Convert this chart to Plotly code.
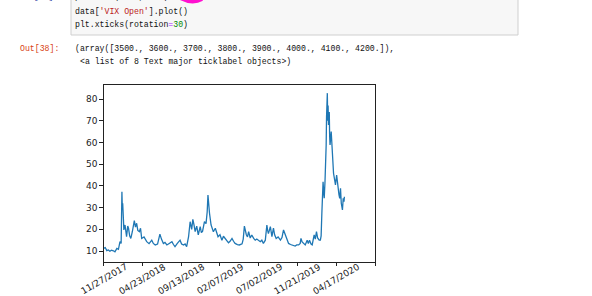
import plotly.graph_objects as go

# ---- data ----
day_index = [
    3490, 3495, 3500, 3504, 3508, 3512, 3516, 3520, 3525, 3529,
    3534, 3538, 3542, 3545, 3547, 3548, 3549, 3551, 3552, 3555,
    3557, 3559, 3562, 3564, 3567, 3570, 3574, 3579, 3582, 3585,
    3588, 3592, 3595, 3598, 3604, 3611, 3617, 3624, 3628, 3633,
    3639, 3645, 3649, 3654, 3658, 3663, 3670, 3676, 3680, 3684,
    3690, 3697, 3701, 3706, 3710, 3714, 3719, 3723, 3727, 3730,
    3733, 3736, 3740, 3744, 3749, 3752, 3755, 3760, 3764, 3767,
    3769, 3771, 3773, 3777, 3783, 3788, 3792, 3795, 3800, 3805,
    3809, 3813, 3818, 3822, 3826, 3831, 3835, 3839, 3845, 3850,
    3857, 3860, 3863, 3866, 3868, 3871, 3874, 3878, 3882, 3887,
    3891, 3895, 3900, 3904, 3908, 3912, 3917, 3919, 3921, 3923,
    3925, 3930, 3934, 3938, 3941, 3945, 3950, 3956, 3960, 3964,
    3969, 3973, 3977, 3982, 3986, 3990, 3994, 3998, 4003, 4007,
    4009, 4012, 4016, 4020, 4025, 4028, 4031, 4035, 4038, 4043,
    4046, 4049, 4052, 4056, 4059, 4061, 4063, 4065, 4066, 4068,
    4069, 4071, 4073, 4074, 4075, 4077, 4078, 4079, 4080, 4082,
    4083, 4084, 4087, 4089, 4091, 4093, 4096, 4098, 4101, 4103,
    4104, 4107, 4109, 4111, 4113, 4116, 4118, 4120, 4121,
]
vix_open = [
    10.8, 11.3, 11.2, 11.6, 10.2, 10.5, 9.9, 10.4, 10.1, 9.6,
    11.2, 10.8, 14.3, 13.5, 37.3, 30.0, 32.0, 24.0, 19.7, 22.0,
    17.5, 16.6, 21.5, 20.5, 17.0, 15.8, 19.0, 24.0, 21.0, 22.8,
    19.5, 18.9, 20.5, 15.8, 16.5, 14.3, 13.4, 15.0, 13.5, 12.8,
    13.2, 17.8, 15.5, 13.5, 14.0, 12.8, 13.6, 14.3, 13.0, 12.0,
    13.5, 15.0, 13.2, 12.8, 13.3, 12.0, 16.6, 23.5, 20.0, 24.6,
    22.0, 18.9, 21.5, 17.4, 21.2, 18.5, 19.0, 23.5, 22.6, 28.0,
    35.8, 31.0, 27.4, 22.0, 18.9, 20.5, 17.8, 16.6, 17.5, 15.0,
    16.8, 16.0, 14.8, 13.8, 14.5, 15.8, 14.5, 13.5, 13.0, 12.8,
    13.3, 15.5, 21.5, 19.0, 17.5, 16.5, 18.9, 16.0, 17.4, 15.8,
    15.0, 15.5, 14.8, 14.3, 15.0, 13.5, 15.0, 18.5, 22.0, 19.5,
    18.0, 21.2, 16.6, 20.5, 17.5, 15.8, 16.5, 15.0, 16.2, 19.7,
    17.5, 15.0, 13.5, 13.0, 12.8, 12.6, 12.3, 12.8, 12.8, 13.5,
    15.8, 14.2, 13.3, 12.8, 15.0, 13.5, 15.0, 13.2, 12.8, 17.4,
    15.5, 18.9, 16.0, 15.0, 15.0, 17.0, 28.0, 36.0, 41.9, 36.0,
    34.3, 42.0, 50.0, 58.8, 71.9, 82.7, 70.0, 77.0, 68.0, 74.0,
    63.0, 58.8, 65.0, 58.8, 52.0, 45.8, 42.7, 40.4, 45.0, 41.0,
    38.9, 36.0, 34.3, 38.9, 32.0, 28.9, 34.3, 32.7, 35.0,
]

x_tick_vals = [3500, 3600, 3700, 3800, 3900, 4000, 4100, 4200]
x_tick_labels = ["11/27/2017", "04/23/2018", "09/13/2018", "02/07/2019",
                 "07/02/2019", "11/21/2019", "04/17/2020", ""]
y_tick_vals = [10, 20, 30, 40, 50, 60, 70, 80]

W, H = 592, 296


def px(x):
    return x / W


def py(y):
    return 1 - y / H


fig = go.Figure()
fig.add_trace(go.Scatter(
    x=day_index, y=vix_open, mode="lines",
    line=dict(color="#1f77b4", width=1.3),
    showlegend=False, hoverinfo="skip",
))

axis_common = dict(
    showline=True, mirror=True, linecolor="#222", linewidth=0.9,
    showgrid=False, zeroline=False,
    ticks="outside", ticklen=3.5, tickwidth=0.9, tickcolor="#222",
)

fig.update_layout(
    width=W, height=H,
    margin=dict(l=0, r=0, t=0, b=0),
    paper_bgcolor="white", plot_bgcolor="white",
    xaxis=dict(
        domain=[px(103.7), px(375)], range=[3500, 4200],
        tickvals=x_tick_vals, ticktext=[""] * len(x_tick_vals),
        **axis_common,
    ),
    yaxis=dict(
        domain=[py(262), py(85)], range=[4.95, 86.45],
        tickvals=y_tick_vals,
        tickfont=dict(family="DejaVu Sans", size=9, color="#222"),
        **axis_common,
    ),
)

# rotated x tick labels centred on their ticks (matplotlib rotation=30)
for v, t in zip(x_tick_vals, x_tick_labels):
    if t:
        fig.add_annotation(
            x=v, xref="x", y=py(278.5), yref="paper",
            text=t, textangle=-30, showarrow=False,
            xanchor="center", yanchor="middle",
            font=dict(family="DejaVu Sans", size=9, color="#222"),
        )

# ---- notebook surroundings ----
mono = "Liberation Mono"
fs = 8.2
fig.add_shape(type="rect", xref="paper", yref="paper",
              x0=px(71), x1=px(518), y0=py(35), y1=py(-10),
              fillcolor="#f7f7f7", line=dict(color="#cfcfcf", width=1),
              layer="below")

code_lines = [
    (-3.5, "plt.xlim(3500,4200)"),
    (11, "data[<span style='color:#BA2121'>'VIX Open'</span>].plot()"),
    (24, "plt.xticks(rotation<span style='color:#AA22FF'>=</span>"
         "<span style='color:#008800'>30</span>)"),
]
for yy, txt in code_lines:
    fig.add_annotation(x=px(73), y=py(yy), xref="paper", yref="paper",
                       text=txt, showarrow=False, xanchor="left",
                       yanchor="middle",
                       font=dict(family=mono, size=fs, color="#111"))

fig.add_annotation(x=px(17), y=py(-3.5), xref="paper", yref="paper",
                   text="In [38]:", showarrow=False, xanchor="left",
                   yanchor="middle",
                   font=dict(family=mono, size=fs, color="#303F9F"))
fig.add_annotation(x=px(18), y=py(48), xref="paper", yref="paper",
                   text="Out[38]:", showarrow=False, xanchor="left",
                   yanchor="middle",
                   font=dict(family=mono, size=fs, color="#D84315"))
fig.add_annotation(
    x=px(73), y=py(48), xref="paper", yref="paper",
    text="(array([3500., 3600., 3700., 3800., 3900., 4000., 4100., 4200.]),",
    showarrow=False, xanchor="left", yanchor="middle",
    font=dict(family=mono, size=fs, color="#111"))
fig.add_annotation(
    x=px(78), y=py(61), xref="paper", yref="paper",
    text="&lt;a list of 8 Text major ticklabel objects&gt;)",
    showarrow=False, xanchor="left", yanchor="middle",
    font=dict(family=mono, size=fs, color="#111"))

# magenta pen stroke at the top
fig.add_shape(type="path", xref="paper", yref="paper",
              path=f"M {px(177)},{py(-4)} Q {px(191)},{py(5)} {px(202)},{py(-1)}",
              line=dict(color="#ff10d0", width=4))

fig.write_html("out.html")
